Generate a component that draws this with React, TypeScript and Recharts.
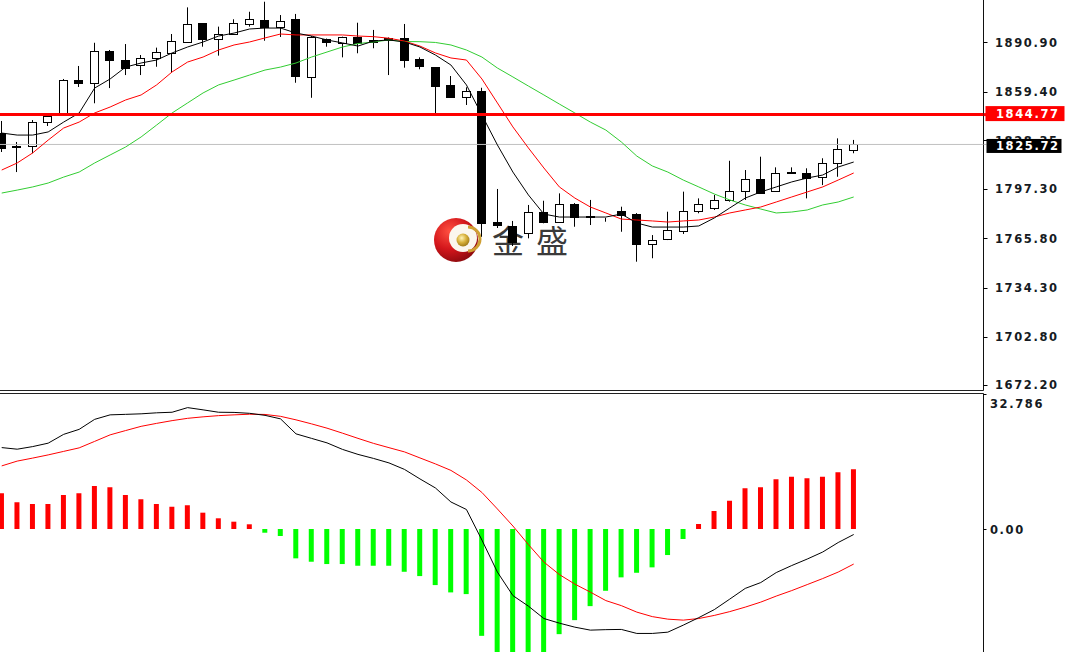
import React from 'react';
import { ComposedChart, Bar, Line, XAxis, YAxis, ReferenceLine, Cell } from 'recharts';

// candles (index 0 = left edge)
const opens = [1833.2, 1824.7, 1824.9, 1840.0, 1844.5, 1866.8, 1864.7, 1885.5, 1879.6, 1876.4, 1880.7, 1883.9, 1891.3, 1903.0, 1893.0, 1896.2, 1902.6, 1905.1, 1900.9, 1905.6, 1869.0, 1893.0, 1890.3, 1894.5, 1892.1, 1893.8, 1893.8, 1880.1, 1874.9, 1863.7, 1856.2, 1860.0, 1776.2, 1773.7, 1769.0, 1782.8, 1776.4, 1787.7, 1780.0, 1778.8, 1783.4, 1781.3, 1762.2, 1765.2, 1770.7, 1783.2, 1785.3, 1790.3, 1796.0, 1803.5, 1796.0, 1807.7, 1807.7, 1805.1, 1813.7, 1822.2];
const closes = [1823.3, 1824.4, 1839.8, 1843.9, 1866.8, 1864.9, 1885.5, 1879.6, 1874.3, 1880.7, 1884.5, 1891.9, 1902.6, 1892.8, 1896.2, 1903.4, 1905.6, 1900.5, 1904.7, 1869.4, 1894.1, 1891.3, 1894.1, 1890.6, 1891.4, 1892.4, 1879.6, 1875.8, 1863.0, 1855.8, 1860.0, 1775.8, 1774.3, 1763.5, 1782.8, 1776.4, 1787.7, 1779.2, 1779.7, 1778.5, 1780.7, 1762.2, 1764.7, 1771.1, 1783.2, 1787.7, 1790.3, 1796.0, 1803.5, 1794.9, 1807.7, 1808.0, 1804.1, 1813.7, 1822.8, 1825.72];
const highs = [1840.7, 1827.3, 1841.3, 1845.1, 1867.5, 1875.8, 1890.6, 1886.0, 1889.8, 1882.8, 1887.5, 1896.2, 1913.2, 1903.2, 1900.9, 1905.6, 1910.4, 1916.8, 1908.3, 1909.0, 1894.9, 1893.3, 1894.5, 1903.4, 1898.8, 1894.0, 1902.6, 1881.3, 1875.1, 1869.4, 1862.2, 1861.9, 1797.3, 1776.9, 1787.1, 1789.8, 1794.5, 1788.3, 1790.3, 1778.9, 1786.0, 1781.9, 1767.9, 1782.8, 1795.6, 1791.3, 1793.5, 1815.3, 1809.4, 1817.9, 1811.1, 1811.1, 1810.5, 1816.9, 1829.6, 1828.6];
const lows = [1820.9, 1808.1, 1820.1, 1837.5, 1843.9, 1862.4, 1852.0, 1861.7, 1870.0, 1870.0, 1875.3, 1871.5, 1891.1, 1888.1, 1882.4, 1895.6, 1900.9, 1891.9, 1894.3, 1865.1, 1855.5, 1888.1, 1881.3, 1883.9, 1887.1, 1870.0, 1874.7, 1873.7, 1845.6, 1855.7, 1850.9, 1766.8, 1772.4, 1760.9, 1765.8, 1775.4, 1775.6, 1773.2, 1774.3, 1776.4, 1770.0, 1750.9, 1753.1, 1764.7, 1768.6, 1781.8, 1783.9, 1789.2, 1790.3, 1794.7, 1795.4, 1807.5, 1791.3, 1799.8, 1805.1, 1820.1];

// moving averages
const maFast = [1833.0, 1831.7, 1831.7, 1833.7, 1840.0, 1845.8, 1861.7, 1867.5, 1875.1, 1877.7, 1879.6, 1884.1, 1887.9, 1891.1, 1894.9, 1896.8, 1899.4, 1900.0, 1900.0, 1896.8, 1894.9, 1892.4, 1890.5, 1888.5, 1891.7, 1892.4, 1891.1, 1887.9, 1882.8, 1876.4, 1863.7, 1844.5, 1825.4, 1808.1, 1793.5, 1781.3, 1779.4, 1779.4, 1779.4, 1779.4, 1781.3, 1775.6, 1773.0, 1773.0, 1773.0, 1773.7, 1778.8, 1785.2, 1791.5, 1795.4, 1798.6, 1801.8, 1804.3, 1806.2, 1811.3, 1814.5];
const maMid = [1809.4, 1813.9, 1820.3, 1828.5, 1836.2, 1840.0, 1845.8, 1849.6, 1854.1, 1857.3, 1863.7, 1872.0, 1878.3, 1881.5, 1886.0, 1889.2, 1891.1, 1893.7, 1896.2, 1895.6, 1895.6, 1895.6, 1895.6, 1894.9, 1894.5, 1893.5, 1891.7, 1888.5, 1884.1, 1880.9, 1879.6, 1867.5, 1852.2, 1836.9, 1823.5, 1810.7, 1798.6, 1791.5, 1785.8, 1782.0, 1778.1, 1777.5, 1776.9, 1776.2, 1776.9, 1777.5, 1779.4, 1782.0, 1783.9, 1785.8, 1789.0, 1792.2, 1795.4, 1798.6, 1803.0, 1807.5];
const maSlow = [1794.7, 1796.6, 1798.6, 1801.1, 1804.9, 1808.1, 1813.9, 1819.0, 1824.1, 1830.5, 1838.1, 1845.8, 1852.2, 1858.6, 1863.7, 1866.8, 1870.0, 1873.2, 1875.1, 1877.7, 1881.5, 1884.7, 1887.9, 1890.1, 1891.1, 1892.4, 1891.4, 1891.3, 1890.8, 1889.2, 1886.0, 1881.5, 1874.5, 1868.8, 1863.0, 1857.3, 1851.5, 1845.8, 1840.0, 1834.9, 1827.3, 1818.3, 1812.0, 1808.1, 1803.0, 1798.6, 1794.1, 1790.3, 1787.1, 1784.5, 1782.0, 1782.6, 1783.9, 1787.1, 1789.0, 1792.2];

// MACD pane
const histogram = [8.65, 6.47, 6.06, 6.06, 8.24, 8.65, 10.42, 10.1, 8.24, 7.2, 6.06, 5.4, 5.74, 3.95, 2.59, 1.77, 1.14, -0.9, -1.7, -7.1, -7.92, -8.48, -8.48, -8.89, -8.89, -8.89, -10.35, -11.39, -13.57, -15.34, -15.75, -25.85, -32.0, -35.0, -33.0, -30.5, -25.44, -22.05, -18.66, -14.95, -11.7, -10.59, -9.28, -6.3, -2.42, 1.21, 4.36, 6.86, 9.86, 10.1, 12.04, 12.67, 12.28, 12.67, 13.74, 14.47];
const macdLine = [19.7, 19.31, 19.94, 20.77, 22.9, 24.11, 26.53, 27.62, 27.74, 27.87, 28.11, 28.25, 29.37, 28.83, 28.25, 28.21, 27.99, 27.5, 26.65, 23.02, 21.93, 20.84, 19.26, 18.05, 17.08, 15.99, 14.42, 12.12, 9.93, 6.54, 4.72, -2.67, -10.42, -16.11, -18.66, -21.66, -22.78, -23.75, -24.47, -24.35, -24.3, -25.27, -25.27, -24.96, -23.26, -21.44, -19.51, -16.96, -14.37, -12.96, -10.54, -8.84, -7.27, -5.57, -3.27, -1.33];
const signalLine = [15.27, 16.43, 17.16, 17.93, 18.78, 19.63, 21.2, 22.78, 23.82, 24.84, 25.56, 26.22, 26.78, 27.14, 27.43, 27.62, 27.77, 27.72, 27.26, 26.41, 25.44, 24.4, 23.19, 21.93, 20.72, 19.68, 18.66, 17.2, 15.75, 14.18, 11.87, 8.84, 4.85, 0.73, -3.76, -8.0, -11.02, -13.33, -15.27, -17.32, -18.54, -20.11, -21.2, -21.81, -22.05, -21.66, -20.91, -19.99, -18.9, -17.69, -16.23, -14.9, -13.45, -11.99, -10.42, -8.48];

const priceTicks = [1890.9, 1859.4, 1828.35, 1797.3, 1765.8, 1734.3, 1702.8, 1672.2];
const resistance = 1844.77;
const lastPrice = 1825.72;
const macdTicks = [32.786, 0];

const X_DOMAIN = [-0.11, 63.38];

const candles = opens.map((o, i) => ({
  i,
  open: o,
  close: closes[i],
  high: highs[i],
  low: lows[i],
  maFast: maFast[i],
  maMid: maMid[i],
  maSlow: maSlow[i],
}));

const macd = histogram.map((h, i) => ({ i, hist: h, macd: macdLine[i], signal: signalLine[i] }));

const labelFont = { fontFamily: '"DejaVu Sans", sans-serif', fontSize: 11.5, fontWeight: 'bold' as const, letterSpacing: 1.6 };

const Candle = (props: any) => {
  const { x, y, width, height, payload } = props;
  if (x == null || payload == null) return null;
  const { open, close, high, low } = payload;
  const cx = Math.round(x + width / 2 - 0.5) + 0.5;
  const top = Math.min(y, y + height);
  const h = Math.abs(height);
  const ratio = h / (high - low);
  const yOf = (v: number) => top + (high - v) * ratio;
  const bTop = Math.round(yOf(Math.max(open, close))) + 0.5;
  const bBot = Math.max(bTop, Math.round(yOf(Math.min(open, close))) + 0.5);
  const up = close >= open;
  return (
    <g>
      <line x1={cx} x2={cx} y1={top} y2={top + h} stroke="#000" strokeWidth={1} />
      <rect x={cx - 4} y={bTop} width={8} height={bBot - bTop} fill={up ? '#fff' : '#000'} stroke="#000" strokeWidth={1} />
    </g>
  );
};

const PriceTick = (props: any) => {
  const { x, y, payload } = props;
  const v = payload.value;
  if (v === resistance) {
    return (
      <g>
        <line x1={x} x2={x + 3} y1={y} y2={y} stroke="#ff0000" strokeWidth={3} />
        <rect x={x + 2} y={y - 8.5} width={79} height={15} fill="#ff0000" />
        <text x={x + 12.5} y={y} dy={3.5} fill="#fff" {...labelFont}>{v.toFixed(2)}</text>
      </g>
    );
  }
  if (v === lastPrice) {
    return (
      <g>
        <line x1={x} x2={x + 3} y1={y} y2={y} stroke="#c0c0c0" />
        <rect x={x + 3} y={y - 5.5} width={75} height={14} fill="#000" />
        <text x={x + 12.5} y={y} dy={6} fill="#fff" {...labelFont}>{v.toFixed(2)}</text>
      </g>
    );
  }
  return (
    <g>
      <line x1={x} x2={x + 4} y1={Math.round(y) + 0.5} y2={Math.round(y) + 0.5} stroke="#000" />
      <text x={x + 11.5} y={y} dy={4.3} fill="#151a22" {...labelFont}>{v.toFixed(2)}</text>
    </g>
  );
};

const MacdTick = (props: any) => {
  const { x, y, payload } = props;
  const v = payload.value;
  const isTop = v > 0;
  return (
    <g>
      <line x1={x} x2={x + 3} y1={Math.round(y) + 0.5} y2={Math.round(y) + 0.5} stroke="#000" />
      <text x={x + 6.5} y={isTop ? y + 10 : y + 1} dy={4.3} fill="#151a22" {...labelFont}>
        {isTop ? v.toFixed(3) : v.toFixed(2)}
      </text>
    </g>
  );
};

const Logo = () => (
  <svg width={1068} height={652} style={{ position: 'absolute', left: 0, top: 0 }}>
    <defs>
      <radialGradient id="sphere" cx="35%" cy="30%" r="75%">
        <stop offset="0" stopColor="#ff5040" />
        <stop offset="0.55" stopColor="#d3161b" />
        <stop offset="1" stopColor="#8c0a0e" />
      </radialGradient>
      <radialGradient id="ball" cx="40%" cy="35%" r="70%">
        <stop offset="0" stopColor="#fff4b8" />
        <stop offset="0.5" stopColor="#d8b13c" />
        <stop offset="1" stopColor="#9a7414" />
      </radialGradient>
    </defs>
    <circle cx={456} cy={240} r={22} fill="url(#sphere)" />
    <circle cx={463} cy={238} r={14} fill="#fbf6ee" />
    <path d="M 468 227 A 12 12 0 0 1 468 251" stroke="#cf9f32" strokeWidth={3} fill="none" />
    <circle cx={463} cy={240} r={6.5} fill="url(#ball)" />
    <text x={492} y={253} fontFamily='"Noto Sans CJK SC", sans-serif' fontSize={32} fill="#3a3a3a" letterSpacing={12}>
      金盛
    </text>
  </svg>
);

const lineProps = { type: 'linear' as const, strokeWidth: 1, dot: false, activeDot: false, legendType: 'none' as const, isAnimationActive: false };

export default function App() {
  return (
    <div style={{ position: 'fixed', left: 0, top: 0, width: 1068, height: 652, background: '#fff', overflow: 'hidden' }}>
      <Logo />
      <div style={{ position: 'absolute', left: 0, top: 0 }}>
        <ComposedChart width={1068} height={391} data={candles} margin={{ top: 0, right: 0, bottom: 0, left: 0 }}>
          <XAxis type="number" dataKey="i" domain={X_DOMAIN} allowDataOverflow height={0.5} tick={false} tickLine={false} axisLine={{ stroke: '#222' }} />
          <YAxis
            orientation="right"
            width={84.5}
            domain={[1668.7, 1917.9]}
            allowDataOverflow
            ticks={[...priceTicks, resistance, lastPrice]}
            interval={0}
            tickSize={0}
            tickMargin={0}
            tickLine={false}
            axisLine={{ stroke: '#111' }}
            tick={(p: any) => <PriceTick {...p} />}
          />
          <ReferenceLine y={lastPrice} stroke="#c0c0c0" strokeWidth={1} />
          <Bar dataKey={(d: any) => [d.low, d.high]} barSize={9} shape={(p: any) => <Candle {...p} />} isAnimationActive={false} />
          <Line {...lineProps} dataKey="maSlow" stroke="#32cd32" />
          <Line {...lineProps} dataKey="maMid" stroke="#ff0000" />
          <Line {...lineProps} dataKey="maFast" stroke="#000" />
          <ReferenceLine y={resistance} stroke="#ff0000" strokeWidth={3} />
        </ComposedChart>
      </div>
      <div style={{ position: 'absolute', left: 0, top: 391 }}>
        <ComposedChart width={1068} height={261} data={macd} margin={{ top: 0, right: 0, bottom: 0, left: 0 }}>
          <XAxis orientation="top" type="number" dataKey="i" domain={X_DOMAIN} allowDataOverflow height={2.5} tick={false} tickLine={false} axisLine={{ stroke: '#222' }} />
          <YAxis
            orientation="right"
            width={84.5}
            domain={[-29.76, 32.786]}
            allowDataOverflow
            ticks={macdTicks}
            interval={0}
            tickSize={0}
            tickMargin={0}
            tickLine={false}
            axisLine={{ stroke: '#111' }}
            tick={(p: any) => <MacdTick {...p} />}
          />
          <Bar dataKey="hist" barSize={5} isAnimationActive={false}>
            {macd.map((d) => (
              <Cell key={d.i} fill={d.hist >= 0 ? '#ff0000' : '#00ff00'} />
            ))}
          </Bar>
          <Line {...lineProps} dataKey="signal" stroke="#ff0000" />
          <Line {...lineProps} dataKey="macd" stroke="#000" />
        </ComposedChart>
      </div>
    </div>
  );
}
